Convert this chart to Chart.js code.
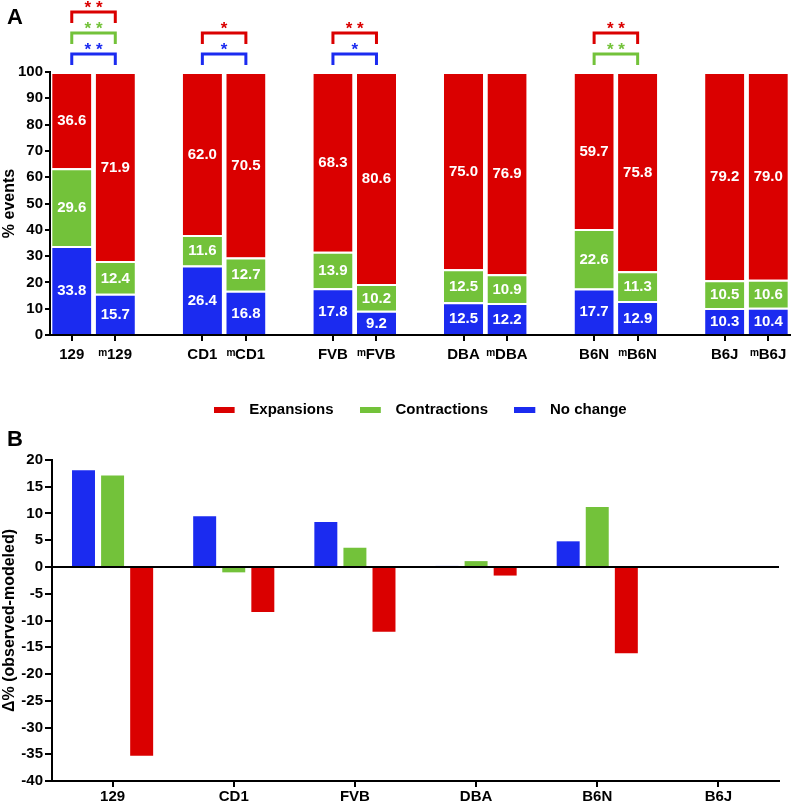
<!DOCTYPE html>
<html>
<head>
<meta charset="utf-8">
<script src="https://cdn.jsdelivr.net/npm/chart.js@4.4.0/dist/chart.umd.min.js"></script>
<style>
  html, body { margin: 0; padding: 0; background: #fff; }
  #wrap { position: relative; width: 792px; height: 804px; }
  canvas { position: absolute; left: 0; }
  #chartA { top: 0; }
  #chartB { top: 427px; }
</style>
</head>
<body>
<div id="wrap">
  <canvas id="chartA" width="792" height="427"></canvas>
  <canvas id="chartB" width="792" height="377"></canvas>
</div>
<script>
const strains = ['129', 'CD1', 'FVB', 'DBA', 'B6N', 'B6J'];

// panel A: two bars per strain (observed, then modeled "m")
const noChange     = [33.8, 15.7, 26.4, 16.8, 17.8, 9.2, 12.5, 12.2, 17.7, 12.9, 10.3, 10.4];
const contractions = [29.6, 12.4, 11.6, 12.7, 13.9, 10.2, 12.5, 10.9, 22.6, 11.3, 10.5, 10.6];
const expansions   = [36.6, 71.9, 62.0, 70.5, 68.3, 80.6, 75.0, 76.9, 59.7, 75.8, 79.2, 79.0];

// significance brackets: [strain index, series, stars], lowest bracket first
const sigPairs = [
  [0, 'noChange', '**'], [0, 'contractions', '**'], [0, 'expansions', '**'],
  [1, 'noChange', '*'], [1, 'expansions', '*'],
  [2, 'noChange', '*'], [2, 'expansions', '**'],
  [4, 'contractions', '**'], [4, 'expansions', '**']
];

// panel B: observed - modeled
const deltaNoChange     = [18.1, 9.5, 8.4, 0.2, 4.8, 0];
const deltaContractions = [17.1, -1.0, 3.6, 1.1, 11.2, 0];
const deltaExpansions   = [-35.3, -8.4, -12.1, -1.6, -16.1, 0];

const RED = '#DA0000', GREEN = '#73C23A', BLUE = '#1B2BF0';
const seriesColors = { noChange: BLUE, contractions: GREEN, expansions: RED };
const FONT = '"Liberation Sans", Arial, sans-serif';

Chart.defaults.font.family = FONT;
Chart.defaults.font.weight = 'bold';
Chart.defaults.font.size = 15;
Chart.defaults.color = '#000';

// slots: strain, modeled strain, empty gap
const labelsA = [], ncA = [], ctA = [], exA = [];
strains.forEach((s, i) => {
  if (i > 0) { labelsA.push(''); ncA.push(null); ctA.push(null); exA.push(null); }
  labelsA.push(s, '\u1D50' + s);
  ncA.push(noChange[2 * i], noChange[2 * i + 1]);
  ctA.push(contractions[2 * i], contractions[2 * i + 1]);
  exA.push(expansions[2 * i], expansions[2 * i + 1]);
});

function makeSwatch(color) {
  const c = document.createElement('canvas');
  c.width = 28; c.height = 6;
  const g = c.getContext('2d');
  g.fillStyle = color;
  g.fillRect(0, 0, 21, 6);
  return c;
}

const panelLetter = {
  id: 'panelLetter',
  afterDraw(chart, args, opts) {
    const ctx = chart.ctx;
    ctx.save();
    ctx.font = 'bold 22px ' + FONT;
    ctx.fillStyle = '#000';
    ctx.textBaseline = 'middle';
    ctx.fillText(opts.text, opts.x, opts.y);
    ctx.restore();
  }
};

const valueLabels = {
  id: 'valueLabels',
  afterDatasetsDraw(chart) {
    const ctx = chart.ctx;
    ctx.save();
    ctx.font = 'bold 15px ' + FONT;
    ctx.fillStyle = '#fff';
    ctx.textAlign = 'center';
    ctx.textBaseline = 'middle';
    chart.data.datasets.forEach((ds, di) => {
      chart.getDatasetMeta(di).data.forEach((bar, j) => {
        const v = ds.data[j];
        if (v == null) return;
        ctx.fillText(v.toFixed(1), bar.x, (bar.y + bar.base) / 2 + 1);
      });
    });
    ctx.restore();
  }
};

const sigBrackets = {
  id: 'sigBrackets',
  afterDraw(chart) {
    const ctx = chart.ctx;
    const xs = chart.scales.x;
    const top = chart.chartArea.top;
    const levels = {};
    ctx.save();
    ctx.lineWidth = 3;
    ctx.font = 'bold 17px ' + FONT;
    ctx.textAlign = 'center';
    ctx.textBaseline = 'middle';
    sigPairs.forEach(([strain, series, stars]) => {
      const level = levels[strain] = (levels[strain] === undefined ? 0 : levels[strain] + 1);
      const x1 = xs.getPixelForValue(strain * 3);
      const x2 = xs.getPixelForValue(strain * 3 + 1);
      const yLine = top - 18 - level * 21;
      ctx.strokeStyle = seriesColors[series];
      ctx.fillStyle = seriesColors[series];
      ctx.beginPath();
      ctx.moveTo(x1, yLine + 11);
      ctx.lineTo(x1, yLine);
      ctx.lineTo(x2, yLine);
      ctx.lineTo(x2, yLine + 11);
      ctx.stroke();
      ctx.fillText(stars.split('').join(' '), (x1 + x2) / 2, yLine - 4);
    });
    ctx.restore();
  }
};

new Chart(document.getElementById('chartA'), {
  type: 'bar',
  data: {
    labels: labelsA,
    datasets: [
      { label: 'No change', data: ncA, backgroundColor: BLUE },
      { label: 'Contractions', data: ctA, backgroundColor: GREEN },
      { label: 'Expansions', data: exA, backgroundColor: RED }
    ]
  },
  options: {
    responsive: false,
    animation: false,
    devicePixelRatio: 1,
    layout: { padding: { left: 0, right: 2, top: 72, bottom: 0 } },
    datasets: {
      bar: {
        barPercentage: 0.9,
        categoryPercentage: 1.0,
        borderColor: '#fff',
        borderWidth: { top: 2, left: 0, right: 0, bottom: 0 },
        borderSkipped: false
      }
    },
    scales: {
      x: {
        stacked: true,
        afterFit: s => { s.height = 41; },
        border: { display: true, color: '#000', width: 2 },
        grid: {
          offset: false,
          drawOnChartArea: false,
          tickLength: 6,
          lineWidth: 2,
          tickColor: ctx => labelsA[ctx.index] ? '#000' : 'rgba(0,0,0,0)'
        },
        ticks: { padding: 5, autoSkip: false, maxRotation: 0, font: { size: 15, weight: 'bold' } }
      },
      y: {
        stacked: true,
        min: 0,
        max: 100,
        afterFit: s => { s.width = 50; },
        border: { display: true, color: '#000', width: 2 },
        grid: { drawOnChartArea: false, tickLength: 5, lineWidth: 2, tickColor: '#000' },
        ticks: { stepSize: 10, padding: 2, font: { size: 15, weight: 'bold' } },
        title: { display: true, text: '% events', padding: 0, font: { size: 16, weight: 'bold' } }
      }
    },
    plugins: {
      legend: {
        position: 'bottom',
        fullSize: false,
        reverse: true,
        labels: {
          usePointStyle: true,
          pointStyleWidth: 28.5,
          padding: 26,
          font: { size: 15, weight: 'bold' },
          generateLabels: chart => Chart.defaults.plugins.legend.labels.generateLabels(chart).map(item => ({
            ...item,
            pointStyle: makeSwatch(chart.data.datasets[item.datasetIndex].backgroundColor)
          }))
        }
      },
      tooltip: { enabled: false },
      panelLetter: { text: 'A', x: 7, y: 18 }
    }
  },
  plugins: [valueLabels, sigBrackets, panelLetter]
});

new Chart(document.getElementById('chartB'), {
  type: 'bar',
  data: {
    labels: strains,
    datasets: [
      { label: 'No change', data: deltaNoChange, backgroundColor: BLUE },
      { label: 'Contractions', data: deltaContractions, backgroundColor: GREEN },
      { label: 'Expansions', data: deltaExpansions, backgroundColor: RED }
    ]
  },
  options: {
    responsive: false,
    animation: false,
    devicePixelRatio: 1,
    layout: { padding: { left: 0, right: 13, top: 33, bottom: 0 } },
    datasets: { bar: { barPercentage: 0.79, categoryPercentage: 0.72 } },
    scales: {
      x: {
        afterFit: s => { s.height = 23; },
        border: { display: true, color: '#000', width: 2 },
        grid: { offset: false, drawOnChartArea: false, tickLength: 6, lineWidth: 2, tickColor: '#000' },
        ticks: { padding: 1, font: { size: 15, weight: 'bold' } }
      },
      y: {
        min: -40,
        max: 20,
        afterFit: s => { s.width = 52; },
        border: { display: true, color: '#000', width: 2 },
        grid: {
          lineWidth: 2,
          tickLength: 7,
          tickColor: '#000',
          color: ctx => ctx.tick && ctx.tick.value === 0 ? '#000' : 'rgba(0,0,0,0)'
        },
        ticks: { stepSize: 5, padding: 2, font: { size: 15, weight: 'bold' } },
        title: { display: true, text: '\u0394% (observed-modeled)', padding: 0, font: { size: 16, weight: 'bold' } }
      }
    },
    plugins: {
      legend: { display: false },
      tooltip: { enabled: false },
      panelLetter: { text: 'B', x: 7, y: 13 }
    }
  },
  plugins: [panelLetter]
});
</script>
</body>
</html>
